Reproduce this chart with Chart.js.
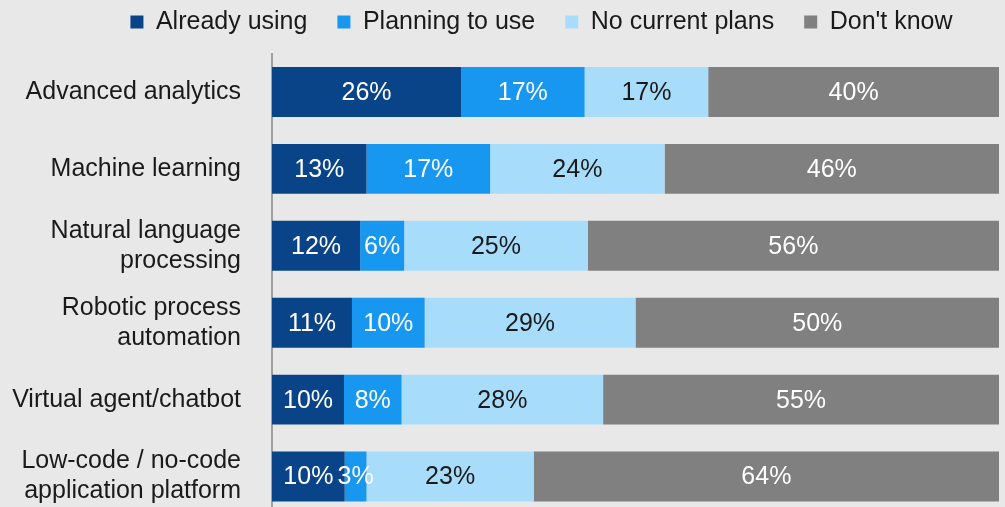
<!DOCTYPE html>
<html>
<head>
<meta charset="utf-8">
<script src="https://cdn.jsdelivr.net/npm/chart.js@4/dist/chart.umd.min.js"></script>
<style>
  html, body { margin: 0; padding: 0; background: #e8e8e8; overflow: hidden; }
  canvas { display: block; }
</style>
</head>
<body>
<canvas id="c" width="1005" height="515" style="width:1005px;height:515px"></canvas>
<script>
const categories = [
  ["Advanced analytics"],
  ["Machine learning"],
  ["Natural language", "processing"],
  ["Robotic process", "automation"],
  ["Virtual agent/chatbot"],
  ["Low-code / no-code", "application platform"]
];
const seriesNames = ["Already using", "Planning to use", "No current plans", "Don't know"];
const alreadyUsing   = [26, 13, 12, 11, 10, 10];
const planningToUse  = [17, 17, 6, 10, 8, 3];
const noCurrentPlans = [17, 24, 25, 29, 28, 23];
const dontKnow       = [40, 46, 56, 50, 55, 64];

const seriesValues = [alreadyUsing, planningToUse, noCurrentPlans, dontKnow];
const colors = ["#0a4488", "#1797f0", "#a7ddfb", "#808080"];
const labelColors = ["#ffffff", "#ffffff", "#1a1a1a", "#ffffff"];

// each bar row is shown as a 100% share of its own total
const rowTotals = categories.map((_, i) => seriesValues.reduce((s, arr) => s + arr[i], 0));

const FONT = "'Liberation Sans', Arial, sans-serif";

const segmentLabels = {
  id: 'segmentLabels',
  afterDatasetsDraw(chart) {
    const ctx = chart.ctx;
    ctx.save();
    ctx.font = "25px " + FONT;
    ctx.textAlign = 'center';
    ctx.textBaseline = 'middle';
    chart.data.datasets.forEach((ds, di) => {
      const meta = chart.getDatasetMeta(di);
      meta.data.forEach((el, i) => {
        const p = el.getProps(['x', 'y', 'base'], true);
        ctx.fillStyle = labelColors[di];
        ctx.fillText(ds.raw[i] + '%', (p.x + p.base) / 2, p.y + 1);
      });
    });
    ctx.restore();
  }
};

// legend: fixed band height, shifted to the reference position
const legendPlace = {
  id: 'legendPlace',
  beforeLayout(chart) {
    const lg = chart.legend;
    if (lg && !lg.__patched) {
      const orig = lg.fit;
      lg.fit = function () { orig.call(this); this.height = 53.5; };
      lg.__patched = true;
    }
  },
  afterLayout(chart) {
    const lg = chart.legend;
    if (!lg) return;
    const dx = 42;
    lg.left += dx;
    lg.right += dx;
    lg.top = -20.5;
  }
};

new Chart(document.getElementById('c'), {
  type: 'bar',
  data: {
    labels: categories,
    datasets: seriesNames.map((name, k) => ({
      label: name,
      raw: seriesValues[k],
      data: seriesValues[k].map((v, i) => v / rowTotals[i] * 100),
      backgroundColor: colors[k],
      borderWidth: 0,
      barPercentage: 0.65,
      categoryPercentage: 1.0
    }))
  },
  options: {
    indexAxis: 'y',
    responsive: false,
    maintainAspectRatio: false,
    animation: false,
    events: [],
    devicePixelRatio: 1,
    layout: { padding: { left: 0, right: 6, top: 0, bottom: 0 } },
    plugins: {
      tooltip: { enabled: false },
      legend: {
        position: 'top',
        align: 'center',
        labels: {
          boxWidth: 13,
          boxHeight: 13,
          padding: 30,
          color: '#1a1a1a',
          font: { family: FONT, size: 25 }
        }
      }
    },
    scales: {
      x: {
        stacked: true,
        min: 0,
        max: 100,
        display: false
      },
      y: {
        stacked: true,
        grid: { display: false },
        border: { display: true, color: '#a0a0a0', width: 2 },
        ticks: {
          color: '#1a1a1a',
          padding: 23,
          font: { family: FONT, size: 25, lineHeight: 1.2 }
        },
        afterFit(s) {
          s.width = 272;
          s.paddingTop = 0;
          s.paddingBottom = 0;
        }
      }
    }
  },
  plugins: [segmentLabels, legendPlace]
});
</script>
</body>
</html>
